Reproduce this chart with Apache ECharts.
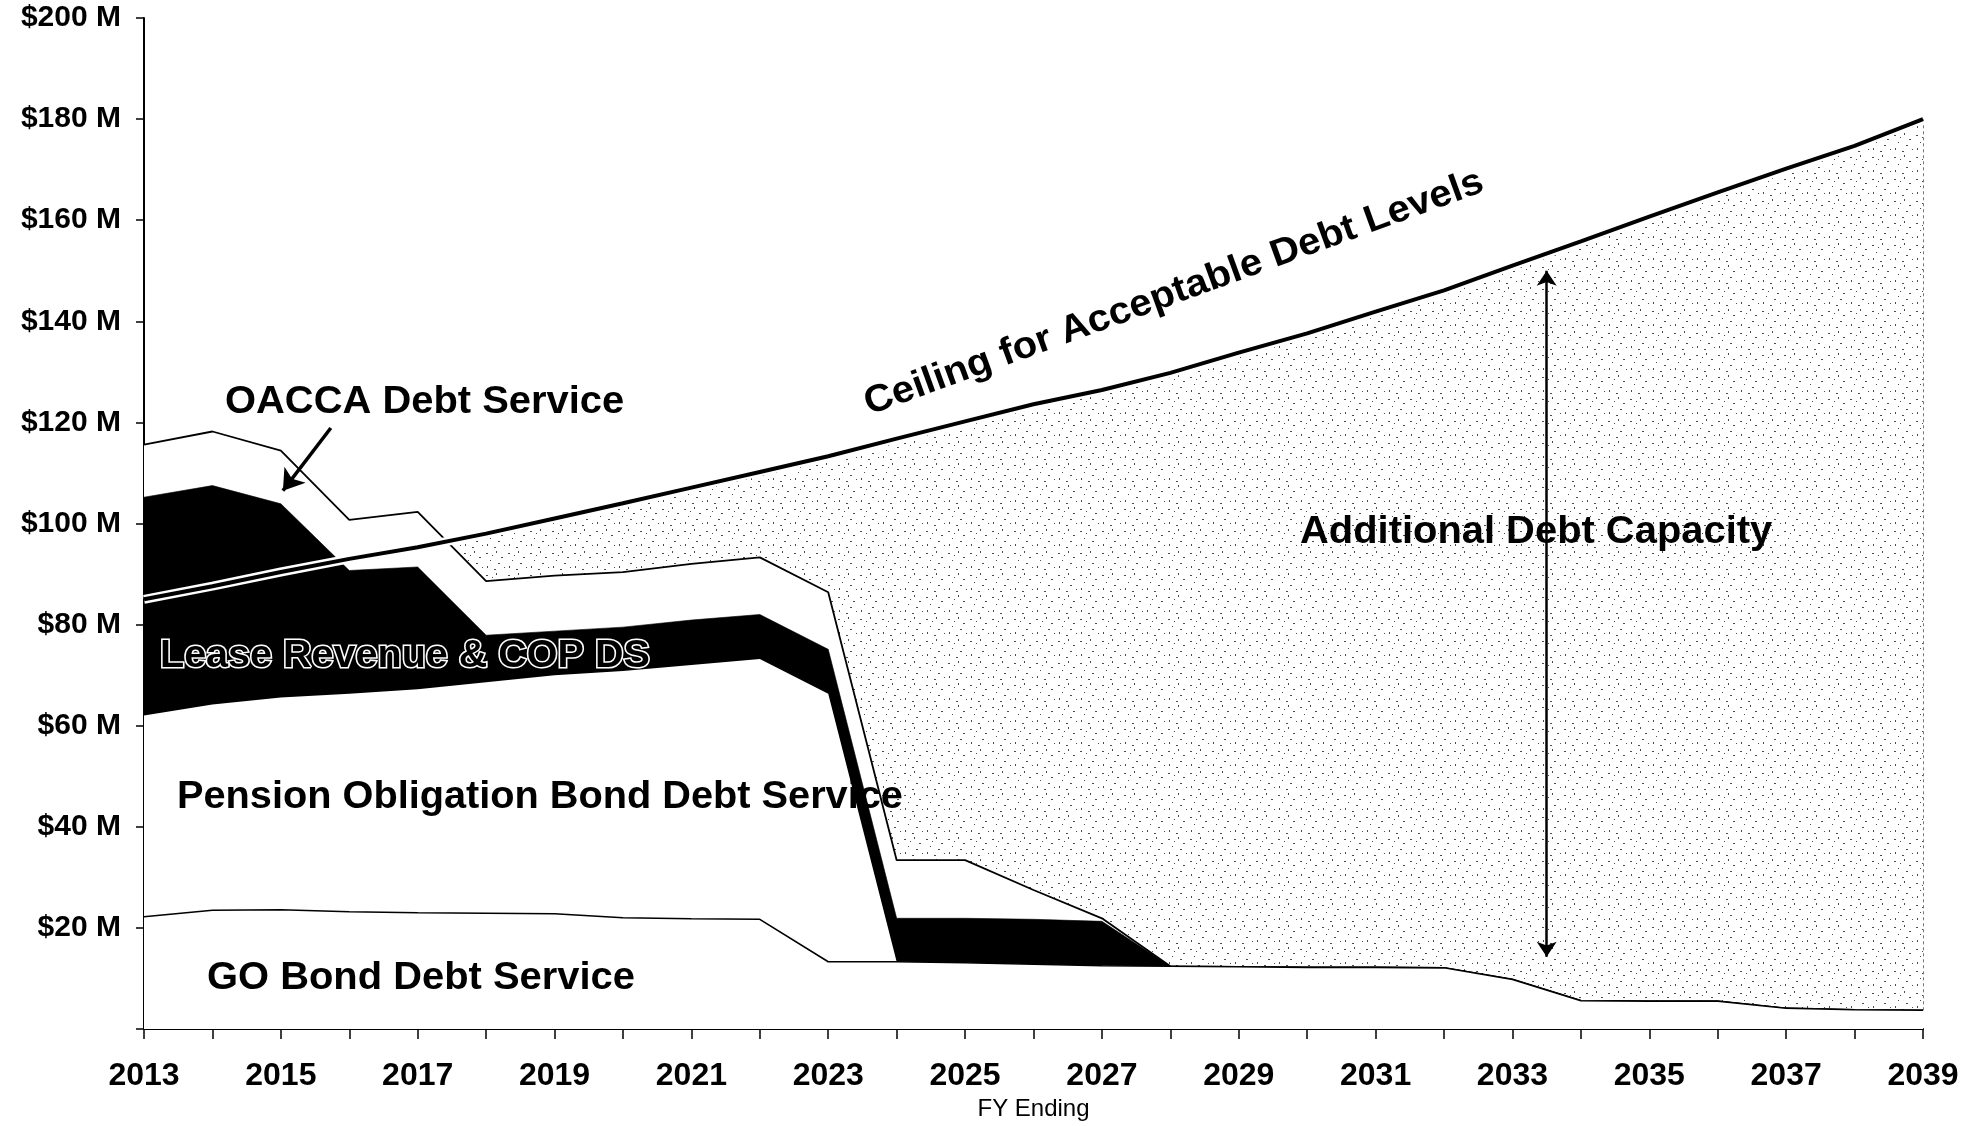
<!DOCTYPE html>
<html>
<head>
<meta charset="utf-8">
<script src="https://cdn.jsdelivr.net/npm/echarts@6/dist/echarts.min.js"></script>
<style>
html,body{margin:0;padding:0;background:#fff;}
#c{width:1979px;height:1126px;}
</style>
</head>
<body>
<div id="c"></div>
<script>
// ---- data (values in $ millions) ----
const years = [2013,2014,2015,2016,2017,2018,2019,2020,2021,2022,2023,2024,2025,2026,2027,2028,2029,2030,2031,2032,2033,2034,2035,2036,2037,2038,2039];
const goBond    = [22.2,23.5,23.6,23.2,23.0,22.9,22.8,22.0,21.8,21.7,13.3,13.3,13.1,12.8,12.5,12.4,12.3,12.2,12.2,12.1,9.8,5.6,5.5,5.5,4.1,3.8,3.7];
const pensionOB = [39.8,40.7,42.0,43.1,44.2,45.7,47.2,48.8,50.2,51.5,53.0,0,0,0,0,0,0,0,0,0,0,0,0,0,0,0,0];
const leaseCOP  = [43.2,43.3,38.3,24.4,24.2,9.3,8.7,8.7,8.9,8.8,8.8,8.6,8.8,8.9,8.8,0,0,0,0,0,0,0,0,0,0,0,0];
const oacca     = [10.4,10.7,10.5,10.0,10.9,10.7,11.0,10.9,11.1,11.3,11.3,11.5,11.5,5.8,0.6,0,0,0,0,0,0,0,0,0,0,0,0];
const ceiling   = [85.0,87.6,90.4,93.0,95.3,98.0,101.0,104.0,107.1,110.2,113.3,116.8,120.2,123.6,126.4,129.8,133.8,137.6,141.9,146.1,151.0,155.8,160.7,165.5,170.2,174.7,180.0];
const yTickValues = [0,20,40,60,80,100,120,140,160,180,200];
const oaccaArrow = [[2015.73,118.9],[2015.03,106.5]];
const capacityArrow = [[2033.5,150.0],[2033.5,14.3]];

// cumulative tops of the stacked debt bands
const cum = (...arrs) => years.map((_, i) => arrs.reduce((s, a) => s + a[i], 0));
const topGO      = cum(goBond);
const topPension = cum(goBond, pensionOB);
const topLease   = cum(goBond, pensionOB, leaseCOP);
const topOACCA   = cum(goBond, pensionOB, leaseCOP, oacca);
const pairs = arr => years.map((y,i)=>[y, +arr[i].toFixed(2)]);

// stipple pattern for "Additional Debt Capacity" region
function makeStipple(){
  const c = document.createElement('canvas');
  c.width = 22; c.height = 22;
  const g = c.getContext('2d');
  g.fillStyle = '#ffffff'; g.fillRect(0,0,22,22);
  g.fillStyle = '#4a4a4a';
  const specks = [[2,3,2,1],[12,1,1,2],[17,7,2,1],[6,10,1,1],[14,13,2,1],[3,16,1,2],[10,19,2,1],[20,17,1,1],[8,5,1,1]];
  specks.forEach(s=>g.fillRect(s[0],s[1],s[2],s[3]));
  return c;
}

const FONT = '"Liberation Sans", Arial, Helvetica, sans-serif';
const chart = echarts.init(document.getElementById('c'), null, {renderer:'canvas'});

function band(name, arr, fill, lineW, z, extra){
  return Object.assign({
    name, type:'line', data:pairs(arr), symbol:'none', z, silent:true,
    lineStyle: lineW > 0 ? {color:'#000', width:lineW} : {width:0, opacity:0},
    areaStyle:{color:fill, opacity:1, origin:'start'}
  }, extra || {});
}

const option = {
  backgroundColor:'#ffffff',
  animation:false,
  grid:{left:144, right:56, top:18, bottom:92, containLabel:false},
  xAxis:{
    type:'value', min:2013, max:2039, interval:1,
    axisLine:{show:true, onZero:false, lineStyle:{color:'#000', width:2}},
    axisTick:{show:true, length:10, lineStyle:{color:'#000', width:1.5}},
    splitLine:{show:false},
    axisLabel:{
      margin:31, color:'#000', fontFamily:FONT, fontWeight:'bold', fontSize:32,
      formatter:v => ((v-2013)%2===0 ? String(v) : '')
    },
    name:'FY Ending', nameLocation:'middle', nameGap:68,
    nameTextStyle:{color:'#000', fontFamily:FONT, fontSize:24}
  },
  yAxis:{
    type:'value', min:yTickValues[0], max:yTickValues[yTickValues.length-1], interval:20,
    axisLine:{show:true, lineStyle:{color:'#000', width:2}},
    axisTick:{show:true, length:8, lineStyle:{color:'#000', width:1.5}},
    splitLine:{show:false},
    axisLabel:{
      margin:23, color:'#000', fontFamily:FONT, fontWeight:'bold', fontSize:30,
      formatter:v => (v===0 ? '' : '$' + v + ' M')
    }
  },
  series:[
    band('Additional Debt Capacity', ceiling, {image:makeStipple(), repeat:'repeat'}, 0, 1, {
      markLine:{
        silent:true, symbol:['none','none'], label:{show:false},
        lineStyle:{color:'#777', width:1, type:[3,3]},
        data:[[{coord:[years[years.length-1], goBond[goBond.length-1]]},{coord:[years[years.length-1], ceiling[ceiling.length-1]]}]]
      }
    }),
    band('OACCA Debt Service', topOACCA, '#ffffff', 1.8, 2, {
      markLine:{
        silent:true, symbol:['none','arrow'], symbolSize:20, label:{show:false},
        lineStyle:{color:'#000', width:3.5, type:'solid'},
        data:[[{coord:oaccaArrow[0]},{coord:oaccaArrow[1]}]]
      }
    }),
    band('Lease Revenue & COP DS', topLease, '#000000', 0.6, 3),
    band('Pension Obligation Bond Debt Service', topPension, '#ffffff', 0, 4),
    band('GO Bond Debt Service', topGO, '#ffffff', 1.6, 5),
    { // white halo of the ceiling line
      name:'ceilingHalo', type:'line', data:pairs(ceiling), symbol:'none', silent:true, z:6,
      lineStyle:{color:'#ffffff', width:9}
    },
    {
      name:'Ceiling for Acceptable Debt Levels', type:'line', data:pairs(ceiling), symbol:'none', z:7, silent:true,
      lineStyle:{color:'#000', width:4},
      markLine:{
        silent:true, symbol:['arrow','arrow'], symbolSize:15, label:{show:false},
        lineStyle:{color:'#000', width:2.5, type:'solid'},
        data:[[{coord:capacityArrow[0]},{coord:capacityArrow[1]}]]
      }
    }
  ],
  graphic:[
    {type:'text', x:225, y:403, scaleX:1.05, z:100,
     style:{text:'OACCA Debt Service', fontFamily:FONT, fontWeight:'bold', fontSize:38, fill:'#000',
            align:'left', verticalAlign:'middle', textAlign:'left', textVerticalAlign:'middle'}},
    {type:'text', x:160, y:657, scaleX:1.04, z:100,
     style:{text:'Lease Revenue & COP DS', fontFamily:FONT, fontWeight:'bold', fontSize:38, fill:'#000', stroke:'#fff', lineWidth:3,
            align:'left', verticalAlign:'middle', textAlign:'left', textVerticalAlign:'middle'}},
    {type:'text', x:177, y:798, scaleX:1.045, z:100,
     style:{text:'Pension Obligation Bond Debt Service', fontFamily:FONT, fontWeight:'bold', fontSize:38, fill:'#000',
            align:'left', verticalAlign:'middle', textAlign:'left', textVerticalAlign:'middle'}},
    {type:'text', x:207, y:979, scaleX:1.05, z:100,
     style:{text:'GO Bond Debt Service', fontFamily:FONT, fontWeight:'bold', fontSize:38, fill:'#000',
            align:'left', verticalAlign:'middle', textAlign:'left', textVerticalAlign:'middle'}},
    {type:'text', x:1300, y:533, scaleX:1.05, z:100,
     style:{text:'Additional Debt Capacity', fontFamily:FONT, fontWeight:'bold', fontSize:38, fill:'#000',
            align:'left', verticalAlign:'middle', textAlign:'left', textVerticalAlign:'middle'}},
    {type:'text', x:1174, y:293, scaleX:1.05, rotation:20*Math.PI/180, z:100,
     style:{text:'Ceiling for Acceptable Debt Levels', fontFamily:FONT, fontWeight:'bold', fontSize:38, fill:'#000',
            align:'center', verticalAlign:'middle', textAlign:'center', textVerticalAlign:'middle'}}
  ]
};
chart.setOption(option);
</script>
</body>
</html>
